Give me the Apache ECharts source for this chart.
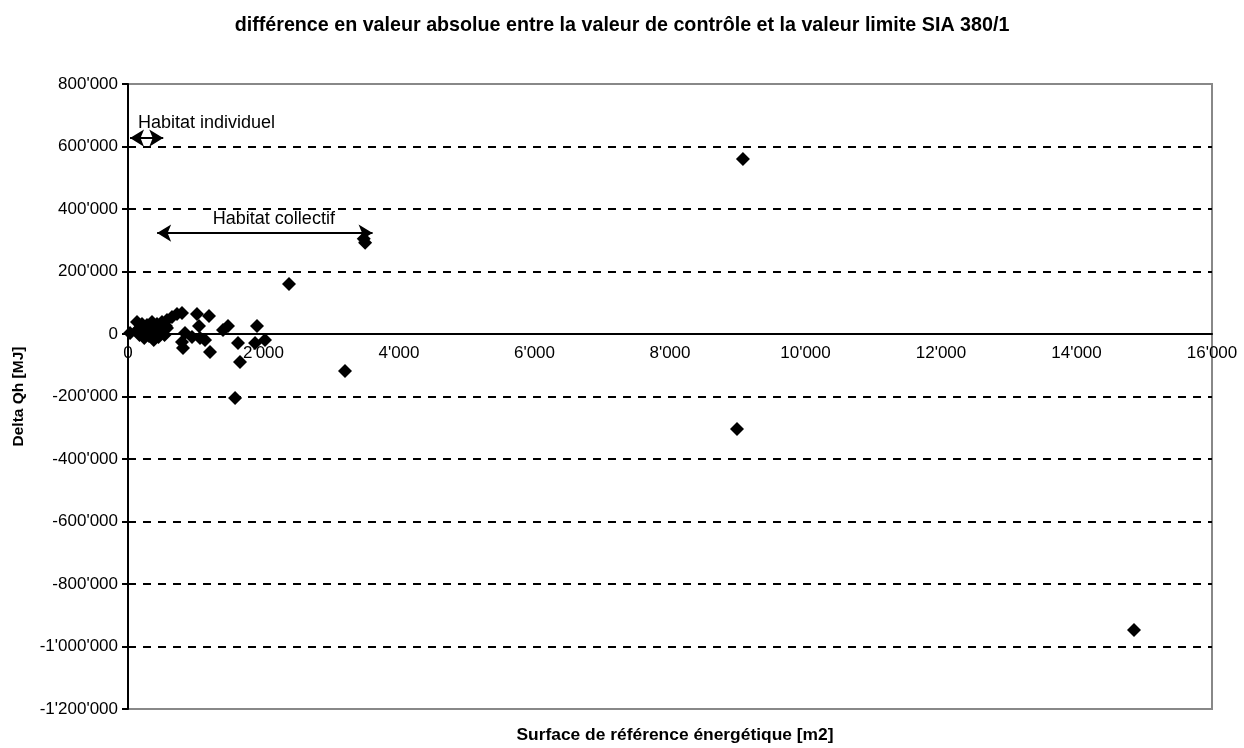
<!DOCTYPE html>
<html>
<head>
<meta charset="utf-8">
<script src="https://cdn.jsdelivr.net/npm/echarts@6/dist/echarts.min.js"></script>
<style>
  html, body { margin: 0; padding: 0; background: #fff; }
  #chart { width: 1244px; height: 748px; }
</style>
</head>
<body>
<div id="chart"></div>
<script>
// surface de référence énergétique [m2] / delta Qh [MJ]
var surfaces = [30, 133, 207, 280, 354, 428, 502, 576, 649, 723, 797,
  140, 207, 280, 354, 428, 502, 576, 180, 250, 320, 400, 470, 560,
  170, 240, 310, 380, 450, 540,
  1018, 1196, 1048, 841, 945, 1063, 1137, 1210, 1402, 1476, 1624, 1653,
  1875, 1904, 2022, 812, 797, 1580,
  2376, 3203, 3480, 3500, 9077, 8989, 14849];
var deltas = [3000, 38400, 32000, 28800, 38400, 32000, 38400, 44800, 54400, 64000, 67200,
  12800, 12800, 12800, 12800, 12800, 12800, 19200, 19200, 22400, 28800, 25600, 22400, 25600,
  -3200, -12800, -6400, -19200, -9600, -3200,
  64000, 57600, 25600, 3200, -9600, -12800, -19200, -57600, 12800, 25600, -28800, -89600,
  -28800, 25600, -19200, -44800, -25600, -204800,
  160000, -118400, 305000, 292000, 560000, -304000, -947200];

var xTicks = { min: 0, max: 16000, step: 2000 };
var yTicks = { min: -1200000, max: 800000, step: 200000 };

var titre = "différence en valeur absolue entre la valeur de contrôle et la valeur limite SIA 380/1";
var nomX = "Surface de référence énergétique [m2]";
var nomY = "Delta Qh [MJ]";

// flèches d'annotation : [label, x début, x fin, y]
var annotations = [
  ["Habitat individuel", 30, 520, 627000],
  ["Habitat collectif", 430, 3610, 323000]
];

function apostrophe(v) {
  var s = String(Math.abs(v)).replace(/\B(?=(\d{3})+(?!\d))/g, "'");
  return (v < 0 ? "-" : "") + s;
}

var points = [];
for (var i = 0; i < surfaces.length; i++) {
  points.push([surfaces[i], deltas[i]]);
}

var lignes = annotations.map(function (a, k) {
  return [
    {
      coord: [a[1], a[3]],
      label: {
        show: true,
        formatter: a[0],
        position: k === 0 ? 'insideStartTop' : 'middle',
        distance: k === 0 ? [8, 6] : 5,
        offset: k === 0 ? [0, 0] : [9, 0],
        color: '#000',
        fontSize: 18,
        fontFamily: 'Liberation Sans'
      }
    },
    { coord: [a[2], a[3]] }
  ];
});

var chart = echarts.init(document.getElementById('chart'), null, { renderer: 'canvas' });
chart.setOption({
  animation: false,
  textStyle: { fontFamily: 'Liberation Sans' },
  title: [
    {
      text: titre, left: 'center', top: 11,
      textStyle: { fontSize: 19.7, fontWeight: 'bold', color: '#000', fontFamily: 'Liberation Sans' }
    },
    {
      text: nomX, left: 670, top: 722, textAlign: 'center',
      textStyle: { fontSize: 17.4, fontWeight: 'bold', color: '#000', fontFamily: 'Liberation Sans' }
    }
  ],
  grid: {
    left: 128, right: 32, top: 84, bottom: 39,
    show: true, borderColor: '#888', borderWidth: 2, backgroundColor: '#fff'
  },
  xAxis: {
    type: 'value',
    min: xTicks.min, max: xTicks.max, interval: xTicks.step,
    axisLine: { onZero: true, lineStyle: { color: '#000', width: 2 } },
    axisTick: { show: false },
    // les étiquettes suivent la ligne du zéro comme dans l'original
    axisLabel: { formatter: apostrophe, color: '#000', fontSize: 17, margin: -364 },
    splitLine: { show: false }
  },
  yAxis: {
    type: 'value',
    min: yTicks.min, max: yTicks.max, interval: yTicks.step,
    name: nomY, nameLocation: 'middle', nameGap: 101, nameRotate: 90,
    nameTextStyle: { fontSize: 15.5, fontWeight: 'bold', color: '#000' },
    axisLine: { show: true, onZero: false, lineStyle: { color: '#000', width: 2 } },
    axisTick: { show: true, inside: false, length: 6, lineStyle: { color: '#000', width: 2 } },
    axisLabel: { formatter: apostrophe, color: '#000', fontSize: 17, margin: 10 },
    splitLine: {
      show: true, showMinLine: false, showMaxLine: false,
      lineStyle: { color: '#000', type: [8, 7], width: 2 }
    }
  },
  series: [{
    type: 'scatter',
    symbol: 'diamond',
    symbolSize: 14,
    itemStyle: { color: '#000', opacity: 1 },
    data: points,
    markLine: {
      silent: true,
      symbol: ['arrow', 'arrow'],
      symbolSize: [13, 14],
      lineStyle: { color: '#000', width: 2, type: 'solid' },
      label: { show: false },
      data: lignes
    }
  }]
});
</script>
</body>
</html>
